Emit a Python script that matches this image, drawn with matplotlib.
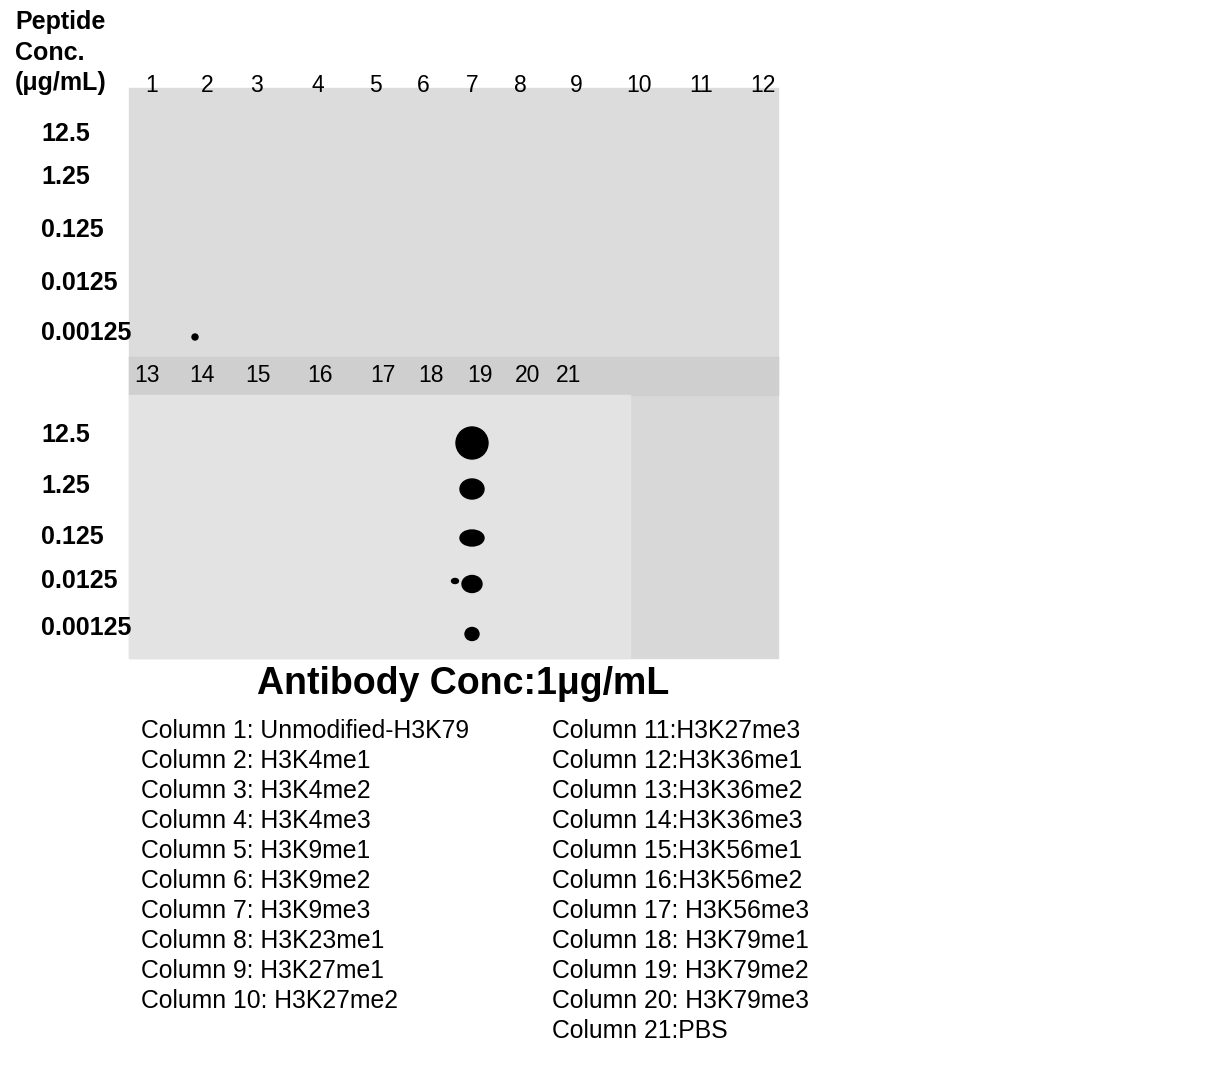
import matplotlib
matplotlib.use("Agg")
import matplotlib.pyplot as plt
from matplotlib.patches import Rectangle, Ellipse

plt.rcParams['font.family'] = ['Liberation Sans', 'DejaVu Sans']

# data
top_cols = ['1', '2', '3', '4', '5', '6', '7', '8', '9', '10', '11', '12']
bot_cols = ['13', '14', '15', '16', '17', '18', '19', '20', '21']
conc_labels = ['12.5', '1.25', '0.125', '0.0125', '0.00125']
# dot sizes (width, height in px) for column 19 per concentration
col19_w = [32, 24, 24, 20, 14]
col19_h = [32, 20, 16, 17, 13]
legend_left = ['Column 1: Unmodified-H3K79', 'Column 2: H3K4me1', 'Column 3: H3K4me2',
               'Column 4: H3K4me3', 'Column 5: H3K9me1', 'Column 6: H3K9me2',
               'Column 7: H3K9me3', 'Column 8: H3K23me1', 'Column 9: H3K27me1',
               'Column 10: H3K27me2']
legend_right = ['Column 11:H3K27me3', 'Column 12:H3K36me1', 'Column 13:H3K36me2',
                'Column 14:H3K36me3', 'Column 15:H3K56me1', 'Column 16:H3K56me2',
                'Column 17: H3K56me3', 'Column 18: H3K79me1', 'Column 19: H3K79me2',
                'Column 20: H3K79me3', 'Column 21:PBS']

# layout (pixel positions)
top_x = [152, 207, 256, 318, 375, 423, 472, 520, 576, 639, 701, 763]
bot_x = [147, 202, 258, 320, 383, 431, 480, 528, 569]
top_y = [134, 177, 230, 283, 333]
bot_y = [435, 486, 537, 581, 628]
dot_y = [443, 489, 538, 584, 634]

fig = plt.figure(figsize=(12.28, 10.87), dpi=100)
ax = fig.add_axes([0, 0, 1, 1])
ax.set_xlim(0, 1228)
ax.set_ylim(1087, 0)
ax.axis('off')

# blot membranes
ax.add_patch(Rectangle((129, 88), 649, 270, color='#dcdcdc'))
ax.add_patch(Rectangle((129, 357), 649, 301, color='#d8d8d8'))
ax.add_patch(Rectangle((129, 357), 649, 38, color='#cfcfcf'))
ax.add_patch(Rectangle((129, 395), 501, 263, color='#e3e3e3'))

for lab, x in zip(top_cols, top_x):
    ax.text(x, 86, lab, fontsize=16.5, ha='center', va='center')
for lab, x in zip(bot_cols, bot_x):
    ax.text(x, 376, lab, fontsize=16.5, ha='center', va='center')
for lab, y in zip(conc_labels, top_y):
    ax.text(41, y, lab, fontsize=18, fontweight='bold', va='center')
for lab, y in zip(conc_labels, bot_y):
    ax.text(41, y, lab, fontsize=18, fontweight='bold', va='center')

ax.text(15, 22, 'Peptide', fontsize=18, fontweight='bold', va='center')
ax.text(15, 53, 'Conc.', fontsize=18, fontweight='bold', va='center')
ax.text(15, 83, '(μg/mL)', fontsize=18, fontweight='bold', va='center')

# signal: column 19
for w, h, y in zip(col19_w, col19_h, dot_y):
    ax.add_patch(Ellipse((bot_x[6] - 8, y), w, h, color='black'))
ax.add_patch(Ellipse((455, 581), 7, 5, color='black'))
ax.add_patch(Ellipse((195, 337), 6, 6, color='black'))

ax.text(463, 684, 'Antibody Conc:1μg/mL', fontsize=27, fontweight='bold',
        ha='center', va='center')

for i, s in enumerate(legend_left):
    ax.text(141, 731 + 30 * i, s, fontsize=17.8, va='center')
for i, s in enumerate(legend_right):
    ax.text(552, 731 + 30 * i, s, fontsize=17.8, va='center')

fig.savefig('out.png', dpi=100)
